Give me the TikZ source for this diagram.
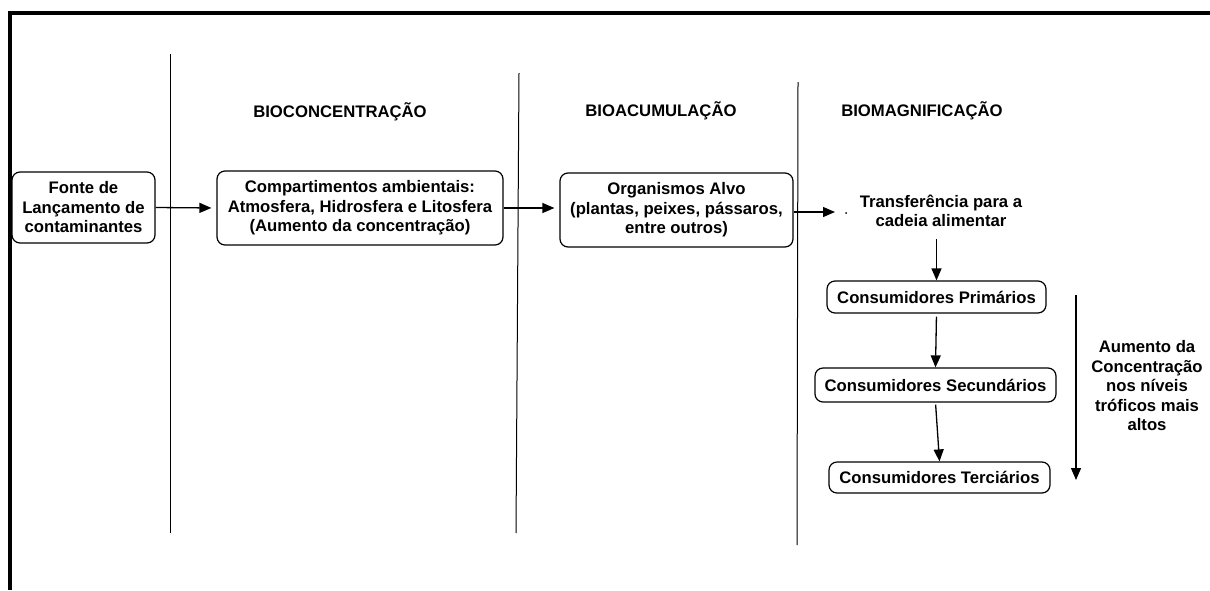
\documentclass[tikz,border=0pt]{standalone}
\usepackage{fontspec}
\setmainfont{Liberation Sans}
\usetikzlibrary{arrows.meta}
\begin{document}
\begin{tikzpicture}[x=1pt,y=-1pt,
  txt/.style={font=\bfseries\fontsize{16.7}{19.5}\selectfont, align=center, inner sep=0pt},
  rbox/.style={txt, draw, line width=1.2pt, rounded corners=8pt},
  sep/.style={line width=1pt, black},
  arr/.style={line width=1.3pt, -{Triangle[length=12pt,width=10pt]}},
]
\useasboundingbox (0,0) rectangle (1210,590);
% frame
\draw[line width=4pt] (10,590) -- (10,13) -- (1212,13);
% separators
\coordinate (s1t) at (170,54);  \coordinate (s1b) at (170,533);
\coordinate (s2t) at (519,73);  \coordinate (s2b) at (516,533);
\coordinate (s3t) at (798,82);  \coordinate (s3b) at (797,545);
\draw[sep] (s1t) -- (s1b);
\draw[sep] (s2t) -- (s2b);
\draw[sep] (s3t) -- (s3b);
% headers
\node[txt] (h1) at (340,112) {BIOCONCENTRAÇÃO};
\node[txt] (h2) at (661,111) {BIOACUMULAÇÃO};
\node[txt] (h3) at (922,111) {BIOMAGNIFICAÇÃO};
% boxes
\node[rbox, minimum width=143pt, minimum height=71pt] (b1) at (83.5,207.5) {Fonte de\\Lançamento de\\contaminantes};
\node[rbox, minimum width=286pt, minimum height=74pt] (b2) at (360,208) {Compartimentos ambientais:\\Atmosfera, Hidrosfera e Litosfera\\(Aumento da concentração)};
\node[rbox, minimum width=233pt, minimum height=74pt] (b3) at (676.5,210) {Organismos Alvo\\(plantas, peixes, pássaros,\\entre outros)};
\node[txt] (tr) at (941,211) {Transferência para a\\cadeia alimentar};
\coordinate (trin) at (835,212);
\fill (846,213) circle (1pt);
\node[rbox, minimum width=219pt, minimum height=32pt] (p1) at (936.5,297) {Consumidores Primários};
\node[rbox, minimum width=241pt, minimum height=34pt] (p2) at (935.5,385) {Consumidores Secundários};
\node[rbox, minimum width=221pt, minimum height=31pt] (p3) at (939.5,477.5) {Consumidores Terciários};
\node[txt] (inc) at (1147,386) {Aumento da\\Concentração\\nos níveis\\tróficos mais\\altos};
\coordinate (la1) at (1076,295);
\coordinate (la2) at (1076,480);
% connectors
\draw[arr, shorten >=5pt] (b1.east) -- (b2.west);
\draw[arr, shorten >=5pt] (b2.east) -- (b3.west |- b2.east);
\draw[arr] (b3.east |- trin) -- (trin);
\draw[arr, shorten <=12pt] (tr.south -| p1.north) -- (p1.north);
\draw[arr, shorten <=3pt] (p1.south) -- (p2.north);
\draw[arr, shorten <=2pt] (p2.south) -- (p3.north);
\draw[arr] (la1) -- (la2);
\end{tikzpicture}
\end{document}
